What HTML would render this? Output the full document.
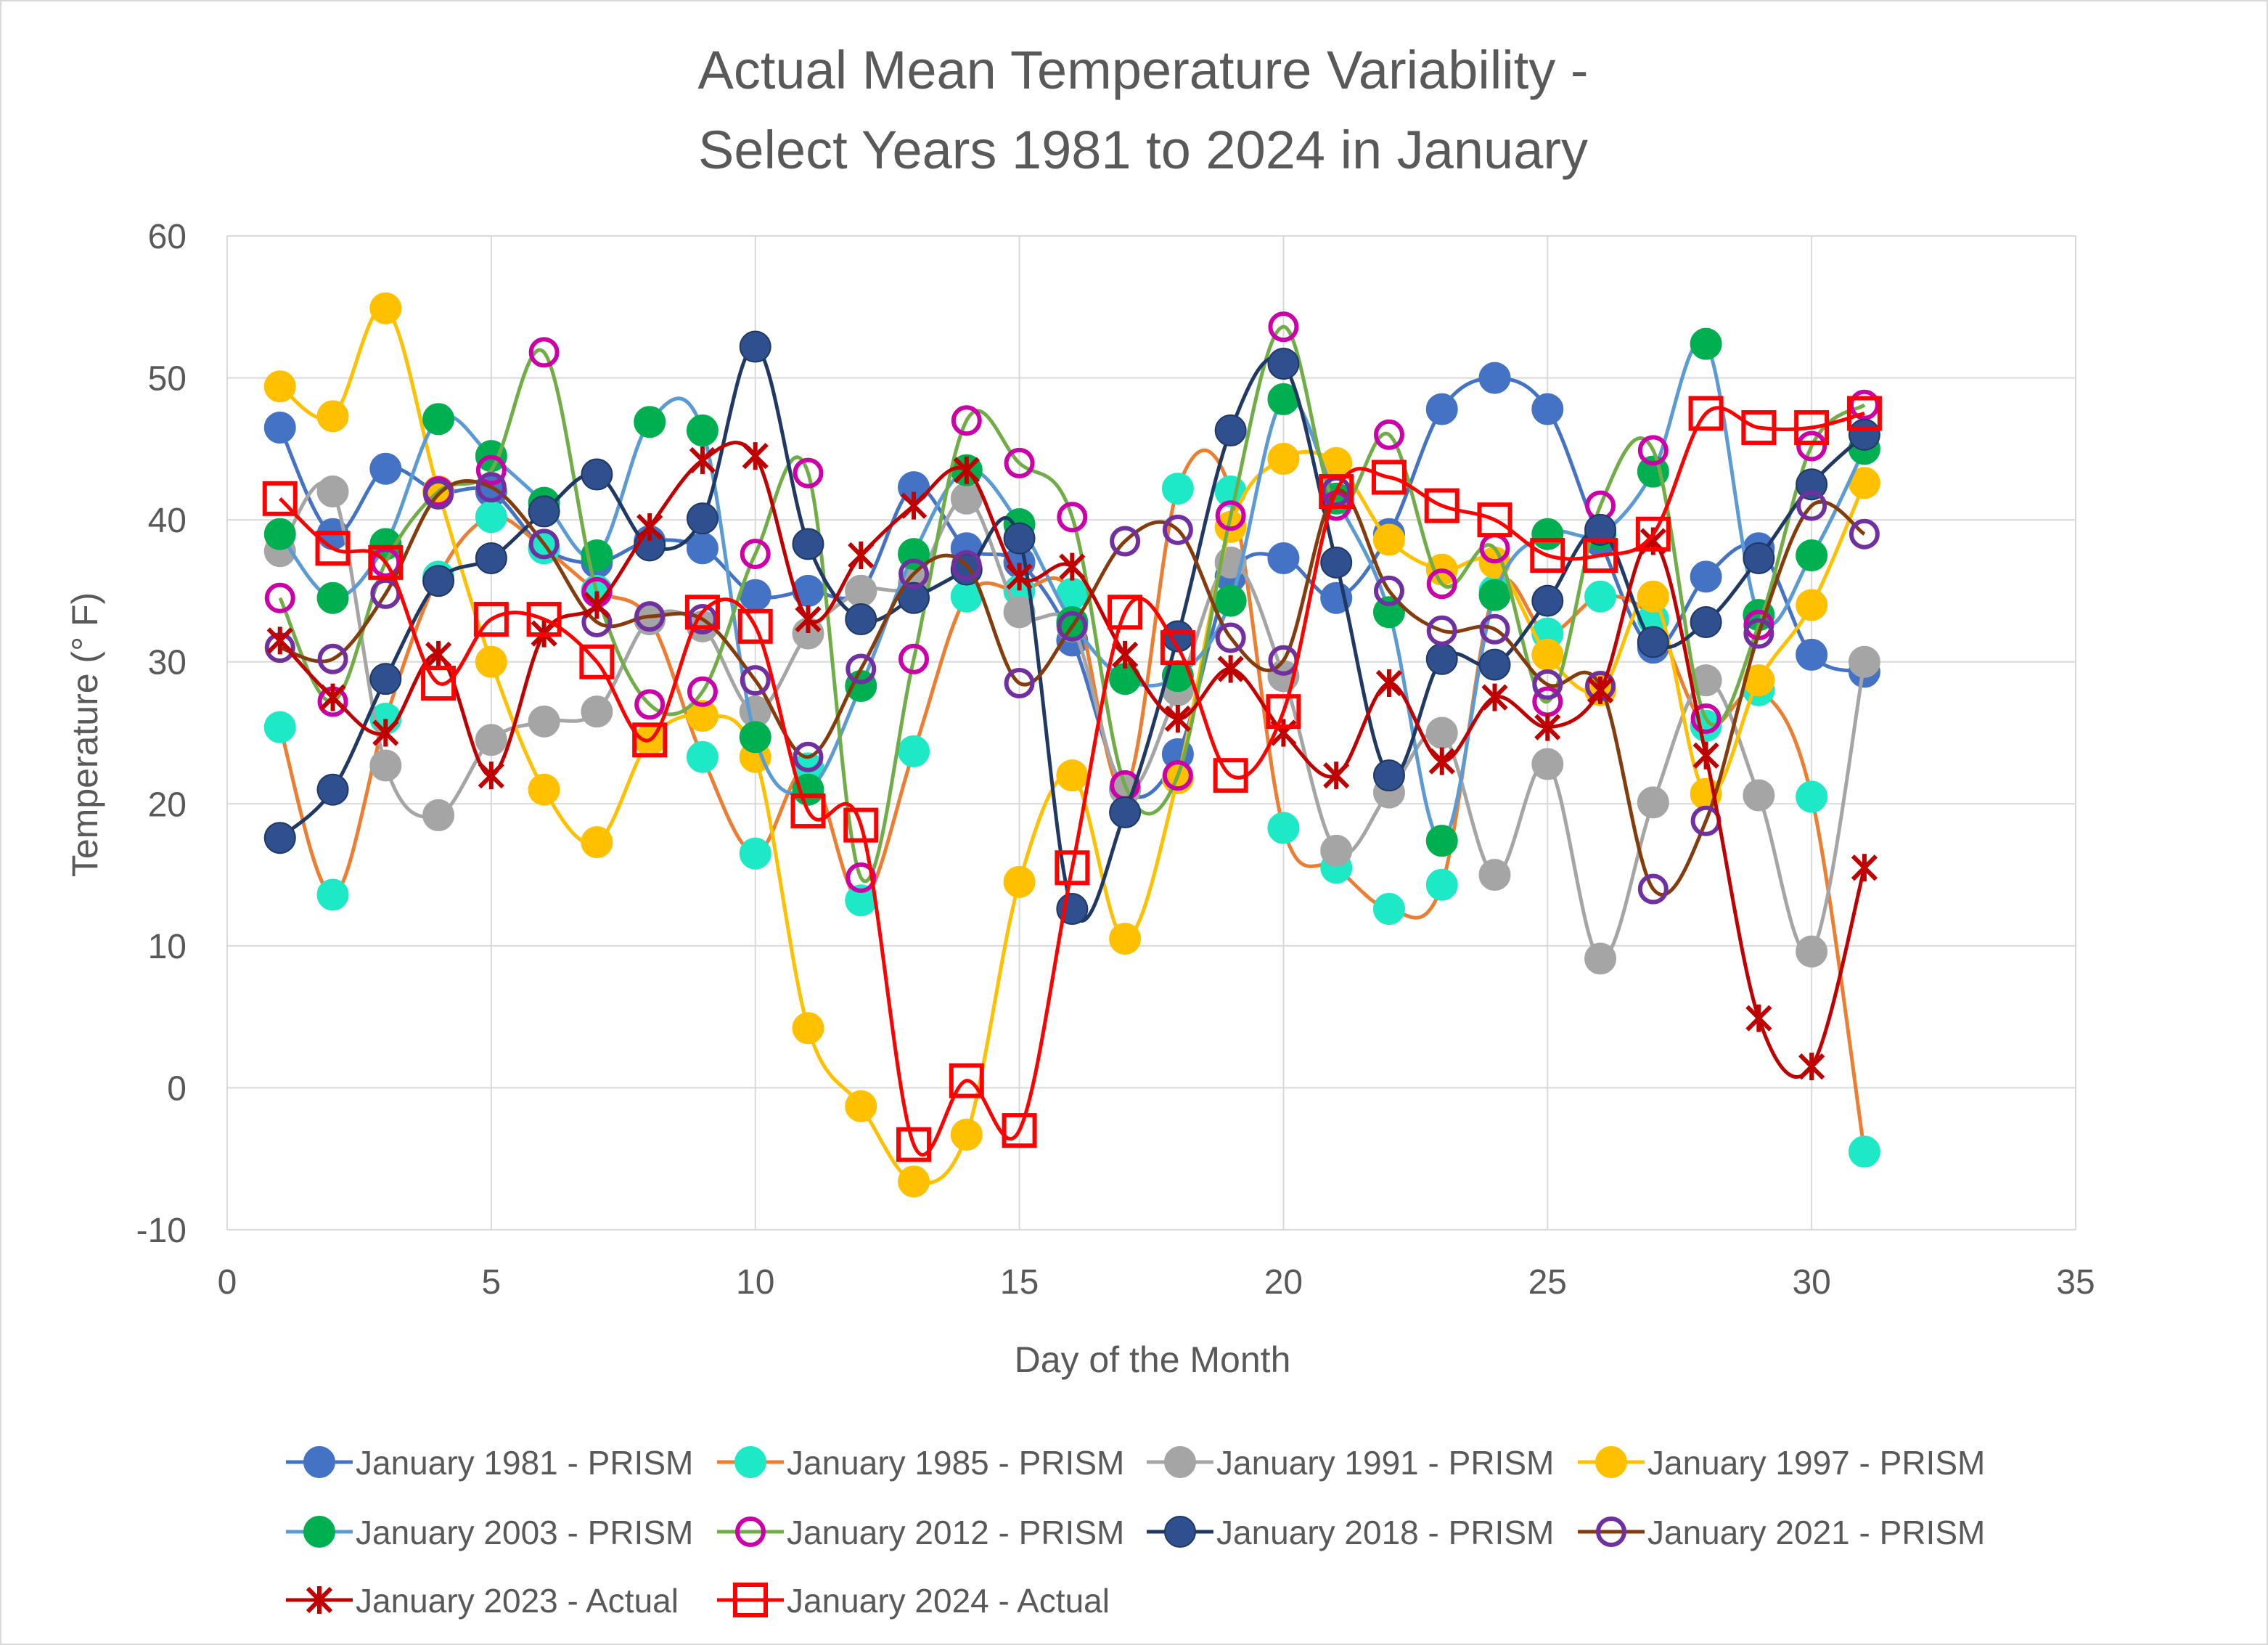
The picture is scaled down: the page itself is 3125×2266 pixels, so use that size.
<!DOCTYPE html>
<html><head><meta charset="utf-8">
<style>
html,body{margin:0;padding:0;background:#fff;}
svg{display:block;font-family:"Liberation Sans",sans-serif;}
</style></head>
<body>
<svg id="chart" width="3125" height="2266" viewBox="0 0 3125 2266" xmlns="http://www.w3.org/2000/svg">
<rect x="1" y="1" width="3123" height="2264" fill="#fff" stroke="#d9d9d9" stroke-width="2"/>
<text x="1575" y="122" font-size="74" fill="#595959" text-anchor="middle">Actual Mean Temperature Variability -</text>
<text x="1575" y="232" font-size="74" fill="#595959" text-anchor="middle">Select Years 1981 to 2024  in January</text>
<g id="grid"></g>
<g id="axes"></g>
<g id="series"></g>
<g id="legend"></g>
<text x="1588" y="1890" font-size="50" fill="#595959" text-anchor="middle">Day of the Month</text>
<text transform="translate(134,1012) rotate(-90)" font-size="50" fill="#595959" text-anchor="middle">Temperature  (° F)</text>
</svg>
<script>
const days = Array.from({length:31},(_,i)=>i+1);
const xTicks = [0,5,10,15,20,25,30,35];
const yTicks = [-10,0,10,20,30,40,50,60];
const s1981 = [46.5,39,43.6,42,42,38,37,38.5,38,34.7,35,35,42.3,38,37,31.5,21,23.5,36,37.3,34.5,39,47.8,50,47.8,38.5,31,36,38,30.5,29.3];
const s1985 = [25.4,13.6,26,36,40.2,38,35,33,23.3,16.5,22.5,13.2,23.7,34.6,35,34.8,21,42.2,42,18.3,15.5,12.6,14.3,35,32,34.6,33,25.5,28,20.5,-4.5];
const s1991 = [37.8,42,22.7,19.2,24.5,25.8,26.5,33,32.5,26.5,32,35,35.5,41.5,33.5,32.5,21,28,37,29,16.7,20.8,25,15,22.8,9.1,20.1,28.7,20.6,9.6,30];
const s1997 = [49.4,47.3,54.9,42,30,21,17.3,24.5,26.2,23.3,4.2,-1.3,-6.6,-3.3,14.5,22,10.5,21.8,39.5,44.3,44,38.6,36.5,37,30.5,28,34.6,20.7,28.7,34,42.6];
const s2003 = [39,34.5,38.3,47.1,44.5,41.2,37.5,46.9,46.3,24.7,21,28.3,37.6,43.5,39.7,32.8,28.8,29,34.3,48.5,41.5,33.5,17.4,34.7,39,39,43.4,52.4,33.3,37.5,45];
const s2012 = [34.5,27.2,37,42,43.5,51.8,34.9,27,27.9,37.6,43.3,14.8,30.2,47,44,40.2,21.3,22,40.3,53.6,41,46,35.5,38,27.2,41,44.9,26,32.6,45.2,48.1];
const s2018 = [17.6,21,28.8,35.7,37.3,40.6,43.2,38.2,40.1,52.2,38.3,33,34.5,36.5,38.7,12.6,19.4,31.8,46.3,51,37,22,30.2,29.8,34.3,39.3,31.4,32.8,37.3,42.5,46];
const s2021 = [31,30.2,34.8,41.8,42.3,38.3,32.8,33.2,33,28.7,23.3,29.5,36.2,36.8,28.5,32.5,38.5,39.3,31.7,30.1,42,35,32.2,32.3,28.4,28.3,14,18.8,32,41,39];
const s2023 = [31.5,27.5,25,30.5,22,32,34,39.5,44.2,44.5,33,37.5,41,43.5,36,36.7,30.5,26,29.5,25,22,28.5,23,27.5,25.4,28,38.5,23.4,4.9,1.5,15.5];
const s2024 = [41.5,38,37,28.5,33,33,30,24.5,33.5,32.5,19.5,18.5,-4,0.5,-3,15.5,33.5,31,22,26.5,42,43,41,40,37.5,37.5,39,47.5,46.5,46.5,47.5];

const seriesDefs = [
 {name:"January 1981 - PRISM", id:"1981", data:s1981, line:"#4472C4", m:"circle", fill:"#4472C4", stroke:"#4472C4"},
 {name:"January 1985 - PRISM", id:"1985", data:s1985, line:"#ED7D31", m:"circle", fill:"#1DE9C6", stroke:"#1DE9C6"},
 {name:"January 1991 - PRISM", id:"1991", data:s1991, line:"#A5A5A5", m:"circle", fill:"#A5A5A5", stroke:"#A5A5A5"},
 {name:"January 1997 - PRISM", id:"1997", data:s1997, line:"#FFC000", m:"circle", fill:"#FFC000", stroke:"#FFC000"},
 {name:"January 2003 - PRISM", id:"2003", data:s2003, line:"#5B9BD5", m:"circle", fill:"#00B050", stroke:"#00B050"},
 {name:"January 2012 - PRISM", id:"2012", data:s2012, line:"#70AD47", m:"ring", fill:"none", stroke:"#CC00A8"},
 {name:"January 2018 - PRISM", id:"2018", data:s2018, line:"#203864", m:"circle", fill:"#2F4F8F", stroke:"#203864"},
 {name:"January 2021 - PRISM", id:"2021", data:s2021, line:"#843C0C", m:"ring", fill:"none", stroke:"#7030A0"},
 {name:"January 2023 - Actual", id:"2023", data:s2023, line:"#C00000", m:"x", fill:"none", stroke:"#C00000"},
 {name:"January 2024 - Actual", id:"2024", data:s2024, line:"#FF0000", m:"square", fill:"none", stroke:"#FF0000"}
];

const X0=313, X1=2860, Y0=1694, Y1=325;
const xs = v => X0 + (v-0)/(35-0)*(X1-X0);
const ys = v => Y0 - (v-(-10))/(60-(-10))*(Y0-Y1);
const NS="http://www.w3.org/2000/svg";
function mk(tag, attrs, parent){const e=document.createElementNS(NS,tag);for(const k in attrs)e.setAttribute(k,attrs[k]);parent.appendChild(e);return e;}

const grid=document.getElementById('grid');
const axes=document.getElementById('axes');
yTicks.forEach(t=>{
  const l=mk('line',{x1:X0,x2:X1,y1:ys(t),y2:ys(t),stroke:'#d9d9d9','stroke-width':2},grid);
  
  
  const tx=mk('text',{x:X0-56,y:ys(t)+17,'font-size':48,fill:'#595959','text-anchor':'end'},axes);
  tx.textContent=t;
  
  
});
xTicks.forEach(t=>{
  const l=mk('line',{x1:xs(t),x2:xs(t),y1:Y1,y2:Y0,stroke:'#d9d9d9','stroke-width':2},grid);
  
  
  const tx=mk('text',{x:xs(t),y:Y0+88,'font-size':48,fill:'#595959','text-anchor':'middle'},axes);
  tx.textContent=t;
  
  
});

function smoothPath(pts){
  let d=`M${pts[0][0]},${pts[0][1]}`;
  for(let i=0;i<pts.length-1;i++){
    const p0=pts[i-1]||pts[i], p1=pts[i], p2=pts[i+1], p3=pts[i+2]||p2;
    const c1x=p1[0]+(p2[0]-p0[0])/6, c1y=p1[1]+(p2[1]-p0[1])/6;
    const c2x=p2[0]-(p3[0]-p1[0])/6, c2y=p2[1]-(p3[1]-p1[1])/6;
    d+=` C${c1x},${c1y} ${c2x},${c2y} ${p2[0]},${p2[1]}`;
  }
  return d;
}
function marker(def,cx,cy,parent,name){
  let e;
  if(def.m==="circle"){
    e=mk('circle',{cx,cy,r:21,fill:def.fill,stroke:def.stroke,'stroke-width':2},parent);
  }else if(def.m==="ring"){
    e=mk('circle',{cx,cy,r:18,fill:'none',stroke:def.stroke,'stroke-width':6},parent);
  }else if(def.m==="square"){
    e=mk('rect',{x:cx-21,y:cy-21,width:42,height:42,fill:'none',stroke:def.stroke,'stroke-width':6},parent);
  }else{
    const s=16;
    e=mk('path',{d:`M${cx-s},${cy-s}L${cx+s},${cy+s}M${cx-s},${cy+s}L${cx+s},${cy-s}M${cx},${cy-s-3}L${cx},${cy+s+3}`,stroke:def.stroke,'stroke-width':6,fill:'none'},parent);
  }
  
  
}
const sg=document.getElementById('series');
seriesDefs.forEach(def=>{
  const g=mk('g',{},sg);
  
  
  const pts=def.data.map((v,i)=>[xs(days[i]),ys(v)]);
  const p=mk('path',{d:smoothPath(pts),fill:'none',stroke:def.line,'stroke-width':5},g);
  
  
  pts.forEach(pt=>marker(def,pt[0],pt[1],g,'point-'+def.id));
});

const lg=document.getElementById('legend');
const colX=[394,988,1580,2174], rowY=[2014,2110,2204];
seriesDefs.forEach((def,i)=>{
  const x=colX[i%4], y=rowY[Math.floor(i/4)];
  const g=mk('g',{},lg);
  
  
  const l=mk('line',{x1:x,x2:x+92,y1:y,y2:y,stroke:def.line,'stroke-width':5},g);
  
  
  marker(def,x+46,y,g,'legend-marker');
  const t=mk('text',{x:x+96,y:y+17,'font-size':46,fill:'#595959'},g);
  t.textContent=def.name;
  
  
});
</script>
</body></html>
